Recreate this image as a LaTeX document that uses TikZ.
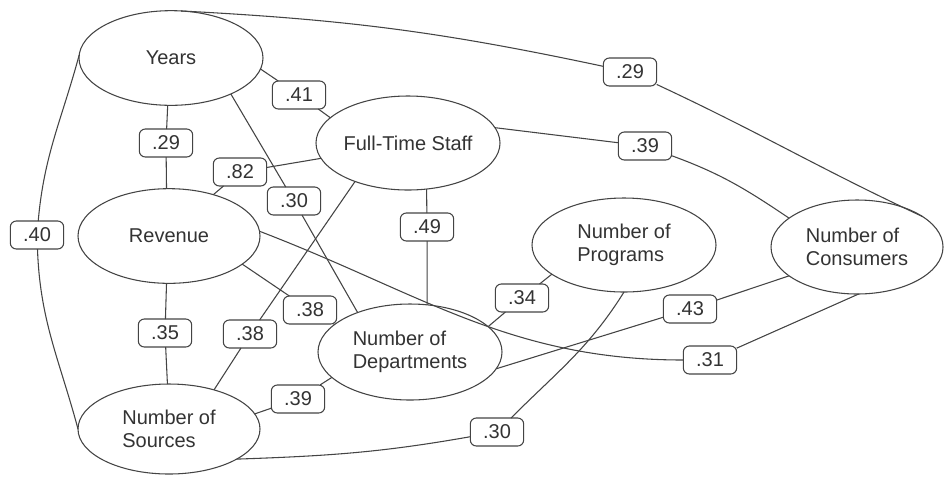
\documentclass[tikz,border=0pt]{standalone}
\usepackage{fontspec}
\setmainfont{Liberation Sans}
\usetikzlibrary{shapes.geometric}
\definecolor{ink}{HTML}{444444}
\definecolor{txt}{HTML}{333333}
\begin{document}
\begin{tikzpicture}[x=0.75pt,y=0.75pt,
  every node/.style={font=\fontsize{15}{17.5}\selectfont, text=txt},
  ell/.style={ellipse, draw=ink, line width=0.8pt, fill=white, inner sep=0pt, outer sep=0pt, align=left},
  wt/.style={rectangle, rounded corners=4.5pt, draw=ink, line width=0.8pt, fill=white,
    minimum width=40pt, minimum height=21pt, inner sep=1pt, outer sep=0pt},
  edge/.style={draw=ink, line width=0.8pt}]
\useasboundingbox (0,0) rectangle (944,-476);
\fill[white] (0,0) rectangle (944,-476);
% ellipses
\node[ell, minimum width=138pt, minimum height=71pt] (Years) at (171,-58) {Years};
\node[ell, minimum width=138pt, minimum height=70.5pt] (FTS) at (408,-143) {Full-Time Staff};
\node[ell, minimum width=136.5pt, minimum height=71pt] (Rev) at (169,-236) {Revenue};
\node[ell, minimum width=136.5pt, minimum height=67.5pt] (Src) at (169,-429) {Number of\\Sources};
\node[ell, minimum width=138pt, minimum height=72pt] (Dept) at (410,-352) {Number of\\Departments};
\node[ell, minimum width=138pt, minimum height=70.5pt] (Prog) at (624,-245) {Number of\\Programs};
\node[ell, minimum width=129pt, minimum height=70.5pt] (Cons) at (857,-247) {Number of\\Consumers};
% weights
\node[wt] (l41) at (299,-95) {.41};
\node[wt] (l29a) at (166,-143) {.29};
\node[wt] (l82) at (240,-172) {.82};
\node[wt] (l30a) at (294,-201) {.30};
\node[wt] (l49) at (427,-227) {.49};
\node[wt] (l40) at (37,-235) {.40};
\node[wt] (l29b) at (630,-72) {.29};
\node[wt] (l39a) at (645,-146) {.39};
\node[wt] (l35) at (165,-333) {.35};
\node[wt] (l38a) at (250,-334) {.38};
\node[wt] (l38b) at (310,-310) {.38};
\node[wt] (l39b) at (298,-399) {.39};
\node[wt] (l34) at (522,-298) {.34};
\node[wt] (l43) at (690,-309) {.43};
\node[wt] (l31) at (710,-360) {.31};
\node[wt] (l30b) at (497,-432) {.30};
% connectors
\path[edge] (Years.-94) -- (l29a) -- (Rev.93);
\path[edge] (Years.-7) -- (l41) -- (FTS.162);
\path[edge] (Years.-31) -- (l30a) -- (Dept.143);
\path[edge] (Years.78) to[out=-3,in=168] (l29b);
\path[edge] (l29b) to[out=-25,in=155] (Cons.25);
\path[edge] (Years.178) to[out=255,in=85] (l40);
\path[edge] (l40) to[out=-88,in=105] (Src.180);
\path[edge] (FTS.190) -- (l82) -- (Rev.43);
\path[edge] (FTS.-68) -- (l49) -- (Dept.70);
\path[edge] (FTS.216) -- (l38a) -- (Src.41);
\path[edge] (FTS.10) -- (l39a);
\path[edge] (l39a) to[out=-20,in=146] (Cons.157);
\path[edge] (Rev.-93) -- (l35) -- (Src.92);
\path[edge] (Rev.-21) -- (l38b) -- (Dept.160);
\path[edge] (Rev.3) to[out=-21,in=180] (l31);
\path[edge] (l31) -- (Cons.-88);
\path[edge] (Src.10) -- (l39b) -- (Dept.198);
\path[edge] (Dept.18) -- (l34) -- (Prog.202);
\path[edge] (Dept.-11) -- (l43) -- (Cons.203);
\path[edge] (Src.-24) to[out=2,in=190] (l30b);
\path[edge] (l30b) to[out=45,in=-122] (Prog.-90);
\end{tikzpicture}
\end{document}
